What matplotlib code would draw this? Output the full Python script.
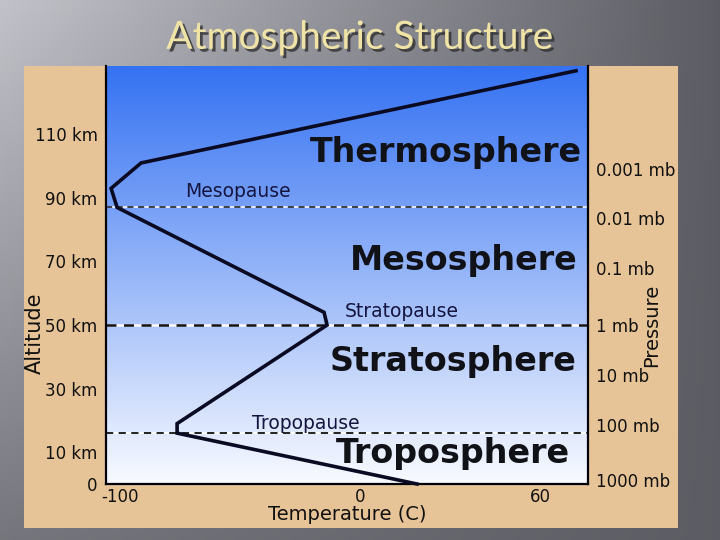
import matplotlib
matplotlib.use("Agg")
import matplotlib.pyplot as plt
import matplotlib.patheffects as pe
from matplotlib.colors import LinearSegmentedColormap
from matplotlib.patches import Rectangle
import numpy as np

# temperature profile (deg C) vs altitude (km)
temp_c = [19, -61, -61, -11, -12, -81, -83, -73, 72]
alt_km = [0, 16, 19, 50, 54, 87, 93, 101, 130]

# layer boundaries (km)
pause_alt = [16, 50, 87]
pause_lw = [1.3, 1.8, 1.1]

# axis tick labels
alt_ticks = [0, 10, 30, 50, 70, 90, 110]
alt_labels = ["0", "10 km", "30 km", "50 km", "70 km", "90 km", "110 km"]
temp_ticks = [-80, 0, 60]
temp_labels = ["-100", "0", "60"]
pres_alt = [1.3, 18.6, 34.4, 50, 67.8, 83.6, 99]
pres_labels = ["1000 mb", "100 mb", "10 mb", "1 mb", "0.1 mb", "0.01 mb", "0.001 mb"]

# layer names and where they sit (temp, alt)
layer_names = ["Troposphere", "Stratosphere", "Mesosphere", "Thermosphere"]
layer_pos = [(70, 6.6), (72.3, 35.6), (72.7, 67.2), (74, 101.3)]
pause_names = ["Tropopause", "Stratopause", "Mesopause"]
pause_pos = [(-36, 17.4), (-5, 52.4), (-58.3, 90.2)]

XLIM = (-84.7, 76)
YLIM = (0, 131.5)

fig = plt.figure(figsize=(7.2, 5.4), dpi=100)

# slide background: grey gradient
bg = fig.add_axes([0, 0, 1, 1], zorder=-10)
gx, gy = np.meshgrid(np.linspace(0, 1, 200), np.linspace(0, 1, 150))
v = 0.76 - 0.40 * gx - 0.30 * gy * (1 - gx)
bg.imshow(np.dstack([v, v, v + 0.03]).clip(0, 1), aspect="auto", extent=(0, 1, 0, 1), origin="upper")
bg.set_axis_off()

# tan panel
fig.patches.append(Rectangle((24 / 720, 12 / 540), 654 / 720, 462 / 540,
                             transform=fig.transFigure, facecolor="#e7c497",
                             edgecolor="none", zorder=-5))

fig.text(0.5, 0.93, "Atmospheric Structure", ha="center", va="center",
         fontsize=28, family="Lato", color="#efe4a6",
         path_effects=[pe.SimplePatchShadow(offset=(2, -2), shadow_rgbFace="#303030", alpha=0.8), pe.Normal()])

ax = fig.add_axes([106 / 720, 56 / 540, 482 / 720, 418 / 540])
ax.set_xlim(*XLIM)
ax.set_ylim(*YLIM)

sky = LinearSegmentedColormap.from_list("sky", ["#f8faff", "#3572f2"])
ax.imshow(np.linspace(0, 1, 256).reshape(-1, 1), cmap=sky, origin="lower",
          extent=(*XLIM, *YLIM), aspect="auto", zorder=0)

for a, lw in zip(pause_alt, pause_lw):
    ax.axhline(a, color="white", lw=lw, zorder=1)
    ax.axhline(a, color="#111111", lw=lw, ls=(0, (4, 3)), zorder=2)

ax.plot(temp_c, alt_km, color="#0a0a22", lw=2.6, solid_joinstyle="miter", zorder=3, clip_on=False)

for name, (x, y) in zip(layer_names, layer_pos):
    ax.text(x, y, name, ha="right", va="baseline", fontsize=24, fontweight="bold",
            family="DejaVu Sans", color="#111118", zorder=4)
for name, (x, y) in zip(pause_names, pause_pos):
    ax.text(x, y, name, ha="left", va="baseline", fontsize=13.5,
            family="DejaVu Sans", color="#15153f", zorder=4)

ax.set_xticks(temp_ticks)
ax.set_xticklabels(temp_labels)
ax.set_yticks(alt_ticks)
ax.set_yticklabels(alt_labels)
ax.tick_params(length=0, labelsize=12, pad=6, colors="#111111")
ax.tick_params(axis="x", pad=3)
ax.set_xlabel("Temperature (C)", fontsize=14, labelpad=-1, color="#111111")
ax.set_ylabel("Altitude", fontsize=15, va="center", color="#111111")
ax.yaxis.set_label_coords(-0.147, 0.36)

for s in ["left", "right", "bottom"]:
    ax.spines[s].set_linewidth(1.6)
    ax.spines[s].set_color("black")
ax.spines["top"].set_visible(False)

ax2 = ax.twinx()
ax2.set_ylim(*YLIM)
ax2.set_yticks(pres_alt)
ax2.set_yticklabels(pres_labels)
ax2.tick_params(length=0, labelsize=12, pad=6, colors="#111111")
ax2.set_ylabel("Pressure", fontsize=14, rotation=90, va="center", color="#111111")
ax2.yaxis.set_label_coords(1.131, 0.38)
for s in ax2.spines.values():
    s.set_visible(False)

fig.savefig("out.png", dpi=100)
